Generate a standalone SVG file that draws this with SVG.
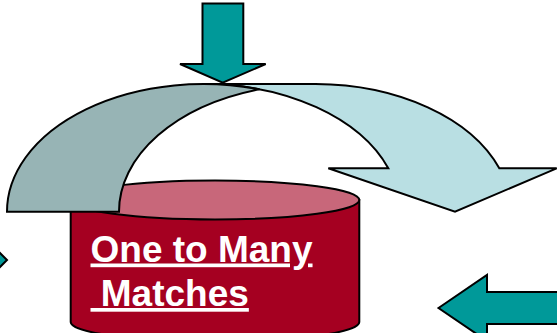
<svg xmlns="http://www.w3.org/2000/svg" width="557" height="333" viewBox="0 0 557 333">
<style>
.s{stroke:#000;stroke-width:2;stroke-linejoin:miter}
.teal{fill:#009999}
.lbl{font-family:"Liberation Sans",Arial,sans-serif;font-weight:bold;font-size:37px;fill:#fff;text-decoration:underline;text-decoration-skip-ink:none}
</style>
<rect width="557" height="333" fill="#fff"/>
<g id="cylinder">
<path class="s" fill="#A50021" d="M70.7,200 L70.7,322 A144.3,19.5 0 0 0 359.3,322 L359.3,200 Z"/>
<ellipse class="s" fill="#C8677A" cx="215" cy="200" rx="144.3" ry="19.5"/>
<text class="lbl" x="90.5" y="261.5">One to Many</text>
<text class="lbl" x="90.5" y="306" xml:space="preserve"> Matches</text>
</g>
<g id="connectors">
<path id="curve-front" class="s" fill="#B9DFE3" d="M203.5,84 L315.5,84 A196.5,127.7 0 0 1 499.3,168.3 L556.7,168.3 L455,211.7 L328.3,168.3 L388.3,168.3 A196.5,127.7 0 0 0 203.5,84 Z"/>
<path id="curve-back" class="s" fill="#97B4B5" d="M7,211.7 A196.5,127.7 0 0 1 259.5,89.3 A196.5,127.7 0 0 0 119,211.7 Z"/>
<polygon id="arrow-top" class="s teal" points="202.5,3.5 243.3,3.5 243.3,64 265.7,64 222.7,82.7 180,64 202.5,64"/>
<polygon id="arrow-left" class="s teal" points="-12,241 7,260 -12,279"/>
<polygon id="arrow-bottom-right" class="s teal" points="438.5,308 487,275 487,292 570,292 570,324 487,324 487,341"/>
</g>
</svg>
